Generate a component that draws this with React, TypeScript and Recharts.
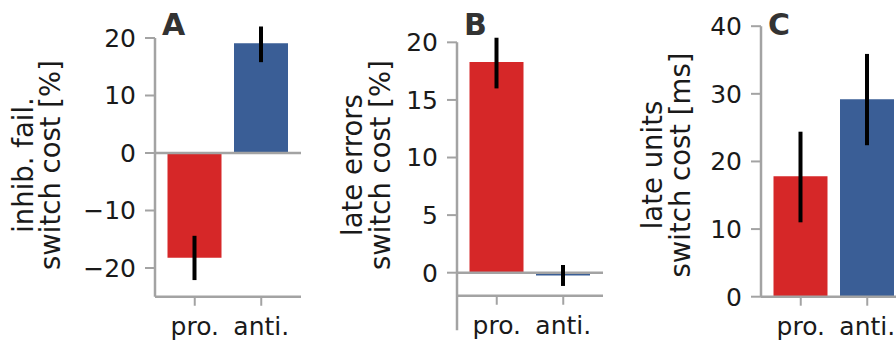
import React from 'react';
import { BarChart, Bar, XAxis, YAxis, ErrorBar, Cell, ReferenceLine } from 'recharts';

// ---- data ----
const categories = ['pro.', 'anti.'];
const barColors = ['#d62728', '#3a5e96'];

const inhibValues = [-18.2, 19.1];
const inhibLower = [-22.1, 15.8];
const inhibUpper = [-14.4, 22.0];
const inhibTicks = [-20, -10, 0, 10, 20];

const lateErrValues = [18.3, -0.25];
const lateErrLower = [16.0, -1.15];
const lateErrUpper = [20.4, 0.67];
const lateErrTicks = [0, 5, 10, 15, 20];

const lateUnitValues = [17.8, 29.2];
const lateUnitLower = [11.0, 22.4];
const lateUnitUpper = [24.4, 35.9];
const lateUnitTicks = [0, 10, 20, 30, 40];

const buildRows = (vals: number[], lo: number[], hi: number[]) =>
  categories.map((name, i) => ({
    name,
    value: vals[i],
    err: [vals[i] - lo[i], hi[i] - vals[i]],
  }));

// ---- style ----
const GRAY = '#a3a3a3';
const TEXT = '#1a1a1a';
const LETTER = '#333333';
const FONT = '"DejaVu Sans", sans-serif';
const YW = 155;
const PLOT_W = 146;
const RIGHT = 9;
const H = 343;

const panels = [
  {
    letter: 'A',
    left: 0,
    plotTop: 9.25,
    plotBottom: 296.75,
    domain: [-25, 25],
    ticks: inhibTicks,
    spineTop: 20,
    xLineAt: -25,
    zero: true,
    lines: ['inhib. fail.', 'switch cost [%]'],
    labelOff: [-121.7, -95],
    data: buildRows(inhibValues, inhibLower, inhibUpper),
  },
  {
    letter: 'B',
    left: 302,
    plotTop: 19.3,
    plotBottom: 330.3,
    domain: [-5, 22],
    ticks: lateErrTicks,
    spineTop: 20,
    xLineAt: -2,
    zero: true,
    lines: ['late errors', 'switch cost [%]'],
    labelOff: [-95.3, -67],
    data: buildRows(lateErrValues, lateErrLower, lateErrUpper),
  },
  {
    letter: 'C',
    left: 606,
    plotTop: 26.2,
    plotBottom: 296.7,
    domain: [0, 40],
    ticks: lateUnitTicks,
    spineTop: 40,
    xLineAt: 0,
    zero: false,
    lines: ['late units', 'switch cost [ms]'],
    labelOff: [-99, -71],
    data: buildRows(lateUnitValues, lateUnitLower, lateUnitUpper),
  },
];

const fmt = (v: number) => (v < 0 ? '\u2212' + Math.abs(v) : String(v));

const XTick = (props: any) => {
  const { x, y, payload, lift } = props;
  const base = y - lift;
  return (
    <g>
      <line x1={x} x2={x} y1={base} y2={base + 9} stroke={GRAY} strokeWidth={2} />
      <text x={x} y={base + 38} textAnchor="middle" fontSize={25} fill={TEXT} fontFamily={FONT}>
        {payload.value}
      </text>
    </g>
  );
};

const Panel = ({ cfg }: { cfg: any }) => {
  const width = YW + PLOT_W + RIGHT;
  const ppu = (cfg.plotBottom - cfg.plotTop) / (cfg.domain[1] - cfg.domain[0]);
  const gap = (cfg.domain[1] - cfg.spineTop) * ppu;
  const dash = (cfg.spineTop - cfg.domain[0]) * ppu;
  const lift = (cfg.xLineAt - cfg.domain[0]) * ppu;
  const spineX = YW;
  const labelY = 165;
  return (
    <div style={{ position: 'absolute', left: cfg.left, top: 0 }}>
      <BarChart
        width={width}
        height={H}
        data={cfg.data}
        margin={{ top: cfg.plotTop, right: RIGHT, left: 0, bottom: 0 }}
      >
        <XAxis
          dataKey="name"
          type="category"
          height={H - cfg.plotBottom}
          padding={{ left: 6.5, right: 6.5 }}
          axisLine={lift === 0 ? { stroke: GRAY, strokeWidth: 2.5 } : false}
          tickLine={false}
          tickSize={0}
          tickMargin={0}
          interval={0}
          tick={(p: any) => <XTick {...p} lift={lift} />}
        />
        <YAxis
          type="number"
          width={YW}
          domain={cfg.domain}
          ticks={cfg.ticks}
          interval={0}
          tickFormatter={fmt}
          tick={{ fontSize: 25, fill: TEXT, fontFamily: FONT }}
          tickSize={10}
          tickMargin={9}
          tickLine={{ stroke: GRAY, strokeWidth: 2 }}
          axisLine={
            gap > 0
              ? { stroke: GRAY, strokeWidth: 2.5, strokeDasharray: `0 ${gap} ${dash} 3000` }
              : { stroke: GRAY, strokeWidth: 2.5 }
          }
        />
        {cfg.zero && <ReferenceLine y={0} stroke={GRAY} strokeWidth={2.5} />}
        {lift > 0 && <ReferenceLine y={cfg.xLineAt} stroke={GRAY} strokeWidth={2.5} />}
        <Bar dataKey="value" barSize={54} isAnimationActive={false}>
          {cfg.data.map((d: any, i: number) => (
            <Cell key={d.name} fill={barColors[i]} />
          ))}
          <ErrorBar
            dataKey="err"
            direction="y"
            width={0}
            stroke="#000000"
            strokeWidth={4}
            isAnimationActive={false}
          />
        </Bar>
        <text
          x={spineX + 7}
          y={35}
          fontSize={30}
          fontWeight="bold"
          fill={LETTER}
          fontFamily={FONT}
        >
          {cfg.letter}
        </text>
        {cfg.lines.map((line: string, i: number) => (
          <text
            key={line}
            x={spineX + cfg.labelOff[i]}
            y={labelY}
            transform={`rotate(-90, ${spineX + cfg.labelOff[i]}, ${labelY})`}
            textAnchor="middle"
            fontSize={27.5}
            fill={TEXT}
            fontFamily={FONT}
          >
            {line}
          </text>
        ))}
      </BarChart>
    </div>
  );
};

export default function App() {
  return (
    <div
      style={{
        position: 'absolute',
        left: 0,
        top: 0,
        width: 896,
        height: 343,
        overflow: 'hidden',
        background: '#ffffff',
        fontFamily: FONT,
      }}
    >
      {panels.map((p) => (
        <Panel key={p.letter} cfg={p} />
      ))}
    </div>
  );
}
